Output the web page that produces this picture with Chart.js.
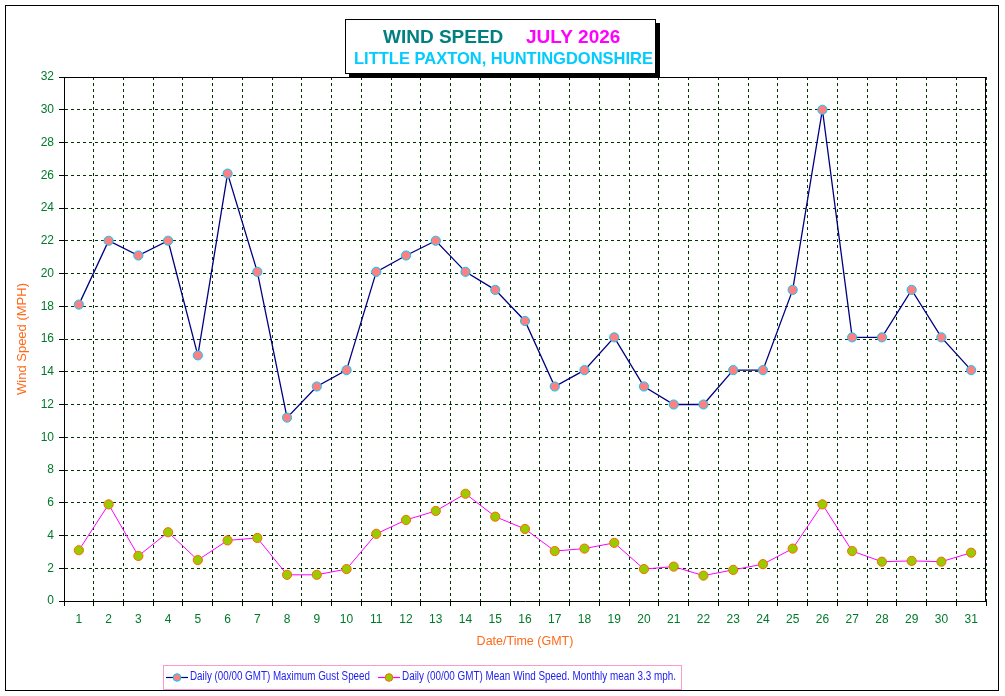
<!DOCTYPE html>
<html>
<head>
<meta charset="utf-8">
<script src="https://cdn.jsdelivr.net/npm/chart.js@4/dist/chart.umd.min.js"></script>
<style>
html,body{margin:0;padding:0;background:#fff;}
#wrap{width:1005px;height:696px;position:relative;}
</style>
</head>
<body>
<div id="wrap"><canvas id="c" width="1005" height="696"></canvas></div>
<script>
const days = ['1','2','3','4','5','6','7','8','9','10','11','12','13','14','15','16','17','18','19','20','21','22','23','24','25','26','27','28','29','30','31'];
const gustSpeed = [18.1,22.0,21.1,22.0,15.0,26.1,20.1,11.2,13.1,14.1,20.1,21.1,22.0,20.1,19.0,17.1,13.1,14.1,16.1,13.1,12.0,12.0,14.1,14.1,19.0,30.0,16.1,16.1,19.0,16.1,14.1];
const meanSpeed = [3.1,5.9,2.75,4.2,2.5,3.7,3.85,1.6,1.6,1.95,4.1,4.95,5.5,6.55,5.15,4.4,3.05,3.2,3.55,1.95,2.1,1.55,1.9,2.25,3.2,5.9,3.05,2.4,2.45,2.4,2.95];
const yTicks = [0,2,4,6,8,10,12,14,16,18,20,22,24,26,28,30,32];
const titleMain = 'WIND SPEED';
const titleMonth = 'JULY 2026';
const titleSub = 'LITTLE PAXTON, HUNTINGDONSHIRE';
const gustLabel = 'Daily (00/00 GMT) Maximum Gust Speed';
const meanLabel = 'Daily (00/00 GMT) Mean Wind Speed. Monthly mean 3.3 mph.';
const yTitle = 'Wind Speed (MPH)';
const xTitle = 'Date/Time (GMT)';

const FONT = '"Liberation Sans", Arial, sans-serif';
const tickColor = '#007a2a';
const axisTitleColor = '#ff6a1a';

const decor = {
  id: 'decor',
  beforeDatasetsDraw(chart) {
    const {ctx, chartArea: a} = chart;
    ctx.save();
    ctx.strokeStyle = '#000';
    ctx.lineWidth = 1;
    ctx.beginPath();
    ctx.moveTo(a.left, a.top + 0.5);
    ctx.lineTo(a.right, a.top + 0.5);
    ctx.moveTo(a.right - 0.5, a.top);
    ctx.lineTo(a.right - 0.5, a.bottom);
    ctx.stroke();
    ctx.restore();
  },
  afterDraw(chart) {
    const ctx = chart.ctx;
    ctx.save();
    // outer frame
    ctx.strokeStyle = '#000';
    ctx.lineWidth = 1;
    ctx.strokeRect(5.5, 5.5, 993, 685);
    // title box with shadow
    const bx = 345, by = 19, bw = 311, bh = 55;
    ctx.fillStyle = '#000';
    ctx.fillRect(bx + 4, by + 4, bw, bh);
    ctx.fillStyle = '#fff';
    ctx.fillRect(bx, by, bw, bh);
    ctx.strokeRect(bx + 0.5, by + 0.5, bw - 1, bh - 1);
    ctx.textBaseline = 'middle';
    ctx.textAlign = 'left';
    ctx.font = 'bold 19px ' + FONT;
    ctx.fillStyle = '#008080';
    ctx.fillText(titleMain, 383, 38, 121);
    ctx.fillStyle = '#ff00ff';
    ctx.fillText(titleMonth, 526, 38, 95);
    ctx.font = 'bold 16.5px ' + FONT;
    ctx.fillStyle = '#00ccff';
    ctx.fillText(titleSub, 354, 59, 299);
    // legend
    ctx.strokeStyle = '#ff99cc';
    ctx.strokeRect(163.5, 665.5, 518, 24);
    const ly = 677;
    const items = [
      {x1: 166, x2: 188, label: gustLabel, ds: chart.data.datasets[0], tx: 190, tw: 180},
      {x1: 378, x2: 400, label: meanLabel, ds: chart.data.datasets[1], tx: 402, tw: 274}
    ];
    items.forEach(it => {
      ctx.strokeStyle = it.ds.borderColor;
      ctx.lineWidth = 1.2;
      ctx.beginPath();
      ctx.moveTo(it.x1, ly + 0.5);
      ctx.lineTo(it.x2, ly + 0.5);
      ctx.stroke();
      ctx.beginPath();
      ctx.arc((it.x1 + it.x2) / 2, ly + 0.5, 3.8, 0, Math.PI * 2);
      ctx.fillStyle = it.ds.pointBackgroundColor;
      ctx.fill();
      ctx.lineWidth = 1;
      ctx.strokeStyle = it.ds.pointBorderColor;
      ctx.stroke();
      ctx.font = '12.5px ' + FONT;
      ctx.fillStyle = '#2222ee';
      ctx.textBaseline = 'middle';
      ctx.fillText(it.label, it.tx, ly, it.tw);
    });
    ctx.restore();
  }
};

new Chart(document.getElementById('c'), {
  type: 'line',
  data: {
    labels: days,
    datasets: [
      {
        label: gustLabel,
        data: gustSpeed,
        borderColor: '#000080',
        borderWidth: 1.3,
        pointBackgroundColor: '#ff8080',
        pointBorderColor: '#00ccff',
        pointBorderWidth: 1,
        pointRadius: 4.6,
        tension: 0
      },
      {
        label: meanLabel,
        data: meanSpeed,
        borderColor: '#ff00ff',
        borderWidth: 1,
        pointBackgroundColor: '#99cc00',
        pointBorderColor: '#ff6600',
        pointBorderWidth: 1,
        pointRadius: 4.6,
        tension: 0
      }
    ]
  },
  options: {
    responsive: false,
    animation: false,
    devicePixelRatio: 1,
    layout: {padding: {top: 77, right: 19, bottom: 45, left: 0}},
    plugins: {legend: {display: false}, title: {display: false}, tooltip: {enabled: false}},
    scales: {
      x: {
        type: 'category',
        offset: true,
        grid: {offset: true, color: '#003300', lineWidth: 1, drawTicks: true, tickLength: 5, tickColor: '#000', tickWidth: 1},
        border: {display: true, color: '#000', width: 1, dash: [3, 3]},
        ticks: {color: tickColor, font: {family: FONT, size: 12}, padding: 6, maxRotation: 0, autoSkip: false},
        title: {display: true, text: xTitle, color: axisTitleColor, font: {family: FONT, size: 12.5}, padding: {top: 0, bottom: 2}},
        afterFit(s) { s.height = 50; }
      },
      y: {
        min: 0,
        max: 32,
        afterBuildTicks(s) { s.ticks = yTicks.map(v => ({value: v})); },
        grid: {color: '#003300', lineWidth: 1, drawTicks: true, tickLength: 5, tickColor: '#000', tickWidth: 1},
        border: {display: true, color: '#000', width: 1, dash: [3, 3]},
        ticks: {color: tickColor, font: {family: FONT, size: 12}, padding: 5},
        title: {display: true, text: yTitle, color: axisTitleColor, font: {family: FONT, size: 13}, padding: {top: 15, bottom: 0}},
        afterFit(s) { s.width = 64; }
      }
    }
  },
  plugins: [decor]
});
</script>
</body>
</html>
